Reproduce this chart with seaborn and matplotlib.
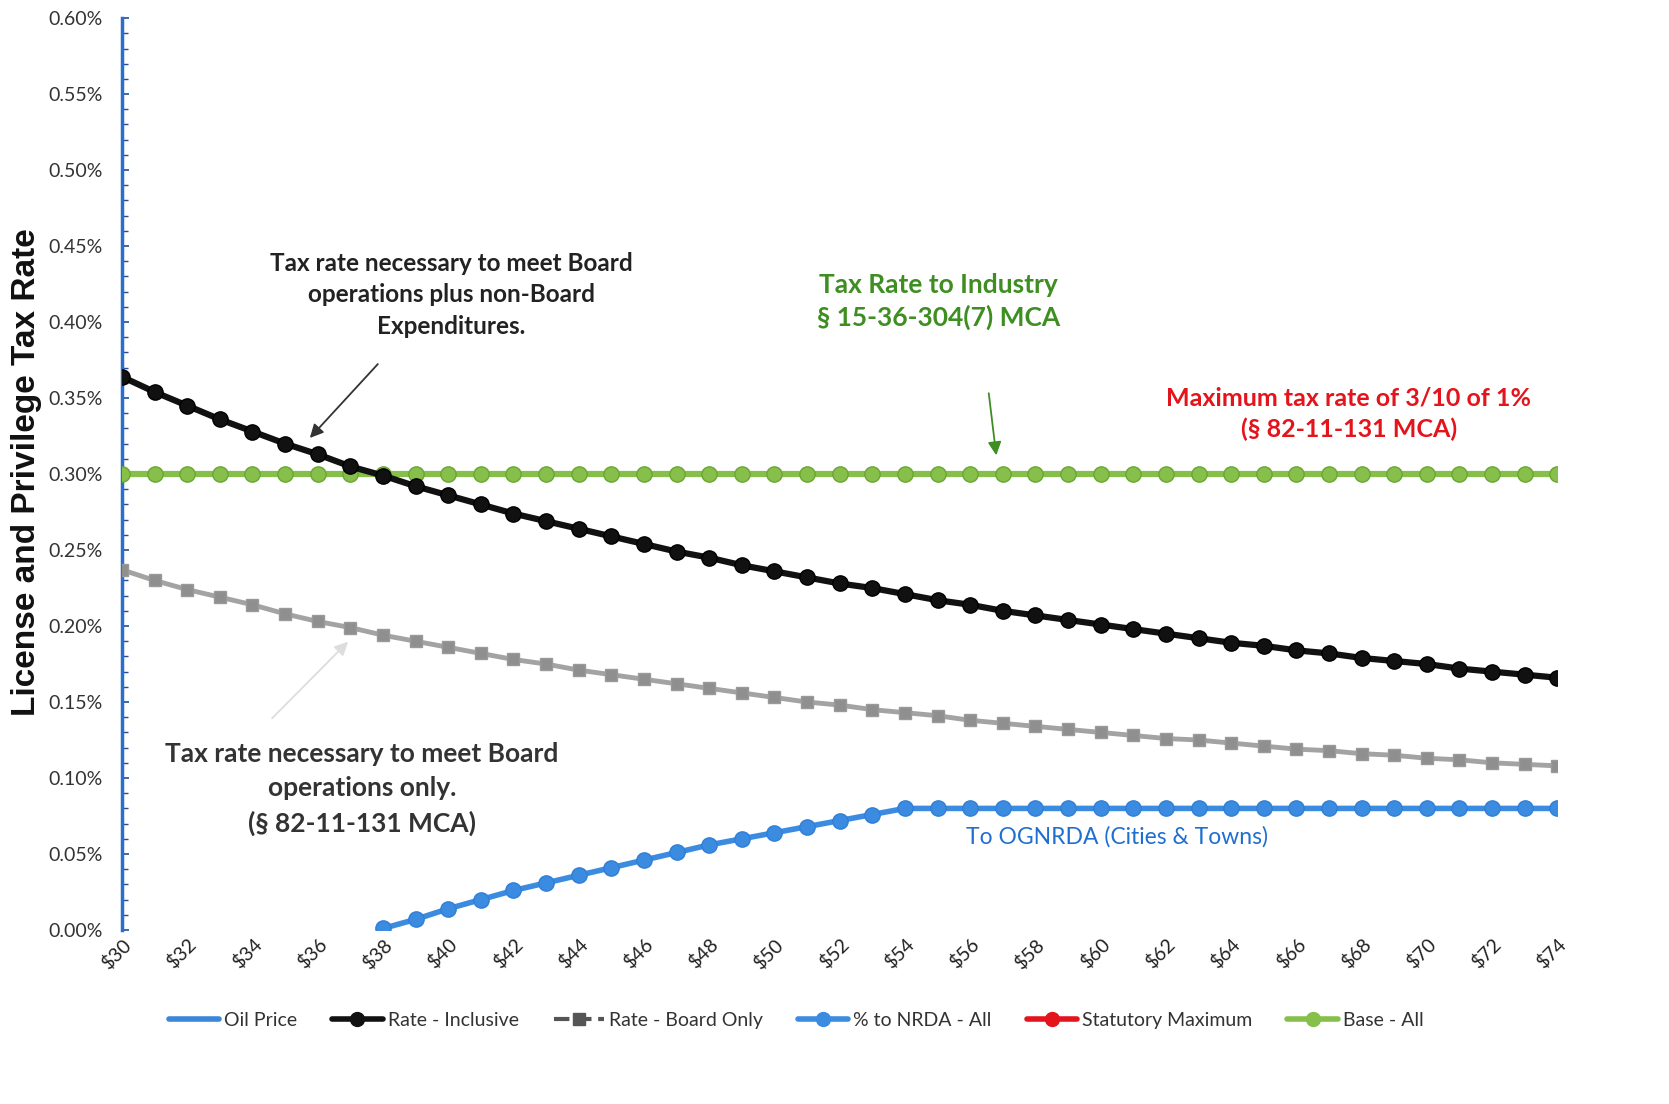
import numpy as np
import pandas as pd
import matplotlib
matplotlib.use("Agg")
import matplotlib.pyplot as plt
from matplotlib.lines import Line2D
from matplotlib.ticker import MultipleLocator, FuncFormatter
import seaborn as sns

# --- Data (values in %) ---
oil_price = list(range(30, 75))

rate_inclusive = [0.364, 0.354, 0.345, 0.336, 0.328, 0.320, 0.313, 0.305, 0.299, 0.292,
                  0.286, 0.280, 0.274, 0.269, 0.264, 0.259, 0.254, 0.249, 0.245, 0.240,
                  0.236, 0.232, 0.228, 0.225, 0.221, 0.217, 0.214, 0.210, 0.207, 0.204,
                  0.201, 0.198, 0.195, 0.192, 0.189, 0.187, 0.184, 0.182, 0.179, 0.177,
                  0.175, 0.172, 0.170, 0.168, 0.166]

rate_board_only = [0.237, 0.230, 0.224, 0.219, 0.214, 0.208, 0.203, 0.199, 0.194, 0.190,
                   0.186, 0.182, 0.178, 0.175, 0.171, 0.168, 0.165, 0.162, 0.159, 0.156,
                   0.153, 0.150, 0.148, 0.145, 0.143, 0.141, 0.138, 0.136, 0.134, 0.132,
                   0.130, 0.128, 0.126, 0.125, 0.123, 0.121, 0.119, 0.118, 0.116, 0.115,
                   0.113, 0.112, 0.110, 0.109, 0.108]

pct_to_nrda = [np.nan] * 8 + [0.001, 0.007, 0.014, 0.020, 0.026, 0.031, 0.036, 0.041,
                              0.046, 0.051, 0.056, 0.060, 0.064, 0.068, 0.072, 0.076,
                              0.080] + [0.080] * 20

statutory_max = [0.30] * 45
base_all = [0.30] * 45

x_ticks = list(range(30, 75, 2))

# --- Colours ---
BLUE = '#3b8be0'
BLACK = '#111111'
GRAY = '#a3a3a3'
GREEN = '#86c04a'
RED = '#e3141b'

sns.set_theme(style="white")
plt.rcParams['font.family'] = ['Lato', 'DejaVu Sans']

fig = plt.figure(figsize=(16.69, 11.04), dpi=100)
ax = fig.add_axes([0.0731, 0.1576, 0.860, 0.826])

sns.lineplot(x=oil_price, y=statutory_max, ax=ax, color=RED, lw=4, marker='o',
             markersize=10, markeredgewidth=0, zorder=2)
sns.lineplot(x=oil_price, y=base_all, ax=ax, color=GREEN, lw=4.5, marker='o',
             markersize=11, markeredgecolor='#6aa634', markeredgewidth=1, zorder=3)
sns.lineplot(x=oil_price, y=rate_board_only, ax=ax, color=GRAY, lw=3.5, marker='s',
             markersize=9, markerfacecolor='#8f8f8f', markeredgecolor='#9a9a9a',
             markeredgewidth=1, zorder=4)
sns.lineplot(x=oil_price, y=rate_inclusive, ax=ax, color=BLACK, lw=4.5, marker='o',
             markersize=11, markeredgecolor='#000000', markeredgewidth=1, zorder=5)
sns.lineplot(x=oil_price, y=pct_to_nrda, ax=ax, color=BLUE, lw=4, marker='o',
             markersize=11, markeredgecolor='#2f7fd6', markeredgewidth=1, zorder=6)

ax.set_xlim(30, 74)
ax.set_ylim(0, 0.60)
ax.set_xticks(x_ticks)
ax.set_xticklabels([f'\\${v}' for v in x_ticks], rotation=45, ha='right',
                   rotation_mode='anchor', fontsize=14, color='#222222')
ax.yaxis.set_major_locator(MultipleLocator(0.05))
ax.yaxis.set_minor_locator(MultipleLocator(0.01))
ax.yaxis.set_major_formatter(FuncFormatter(lambda y, _: f'{y:.2f}%'))
ax.tick_params(axis='y', which='major', labelsize=14, labelcolor='#333333',
               direction='in', length=5, width=1.2, color='#1f4f99', left=True, pad=14)
ax.tick_params(axis='y', which='minor', direction='in', length=4, width=1,
               color='#1f4f99', left=True)
ax.tick_params(axis='x', length=0, pad=4)
for side in ['top', 'right', 'bottom']:
    ax.spines[side].set_visible(False)
ax.spines['left'].set_color('#2a6fd0')
ax.spines['left'].set_linewidth(2.5)

fig.text(0.016, 1 - 472 / 1104, 'License and Privilege Tax Rate', rotation=90,
         ha='center', va='center', fontsize=24, fontweight='bold',
         family=['Liberation Sans', 'DejaVu Sans'], color='#111111')

# --- Annotations ---
ax.text(40.1, 0.418, 'Tax rate necessary to meet Board\noperations plus non-Board\nExpenditures.',
        ha='center', va='center', fontsize=17.5, fontweight='bold', color='#222222',
        linespacing=1.45)
ax.annotate('', xy=(35.7, 0.3224), xytext=(37.9, 0.3737),
            arrowprops=dict(arrowstyle='-|>', color='#333333', lw=1.3, mutation_scale=20))

ax.text(55.03, 0.4135, 'Tax Rate to Industry\n§ 15-36-304(7) MCA', ha='center', va='center',
        fontsize=19, fontweight='bold', color='#3e8e22', linespacing=1.4)
ax.annotate('', xy=(56.81, 0.3105), xytext=(56.56, 0.355),
            arrowprops=dict(arrowstyle='-|>', color='#3e8e22', lw=1.3, mutation_scale=20))

ax.text(67.6, 0.3395, 'Maximum tax rate of 3/10 of 1%\n(§ 82-11-131 MCA)', ha='center',
        va='center', fontsize=18, fontweight='bold', color=RED, linespacing=1.4)

ax.text(37.36, 0.0925, 'Tax rate necessary to meet Board\noperations only.\n(§ 82-11-131 MCA)',
        ha='center', va='center', fontsize=19, fontweight='bold', color='#333333',
        linespacing=1.5)
ax.annotate('', xy=(36.99, 0.191), xytext=(34.54, 0.138),
            arrowprops=dict(arrowstyle='-|>', color='#dddddd', lw=1.3, mutation_scale=20))

ax.text(60.5, 0.0612, 'To OGNRDA (Cities & Towns)', ha='center', va='center',
        fontsize=16.5, color='#1f6fd0')

# --- Legend ---
handles = [
    Line2D([], [], color='#3a86d8', lw=4),
    Line2D([], [], color=BLACK, lw=4, marker='o', markersize=10),
    Line2D([], [], color='#555555', lw=3, ls='--', marker='s', markersize=9),
    Line2D([], [], color=BLUE, lw=4, marker='o', markersize=10),
    Line2D([], [], color=RED, lw=4, marker='o', markersize=10),
    Line2D([], [], color=GREEN, lw=4, marker='o', markersize=10),
]
labels = ['Oil Price', 'Rate - Inclusive', 'Rate - Board Only', '% to NRDA - All',
          'Statutory Maximum', 'Base - All']
fig.legend(handles, labels, loc='center', bbox_to_anchor=(0.477, 0.076), ncol=6,
           frameon=False, fontsize=14, handlelength=2.6, handletextpad=0.25,
           columnspacing=1.8, labelcolor='#333333')

fig.savefig('out.png', dpi=100)
